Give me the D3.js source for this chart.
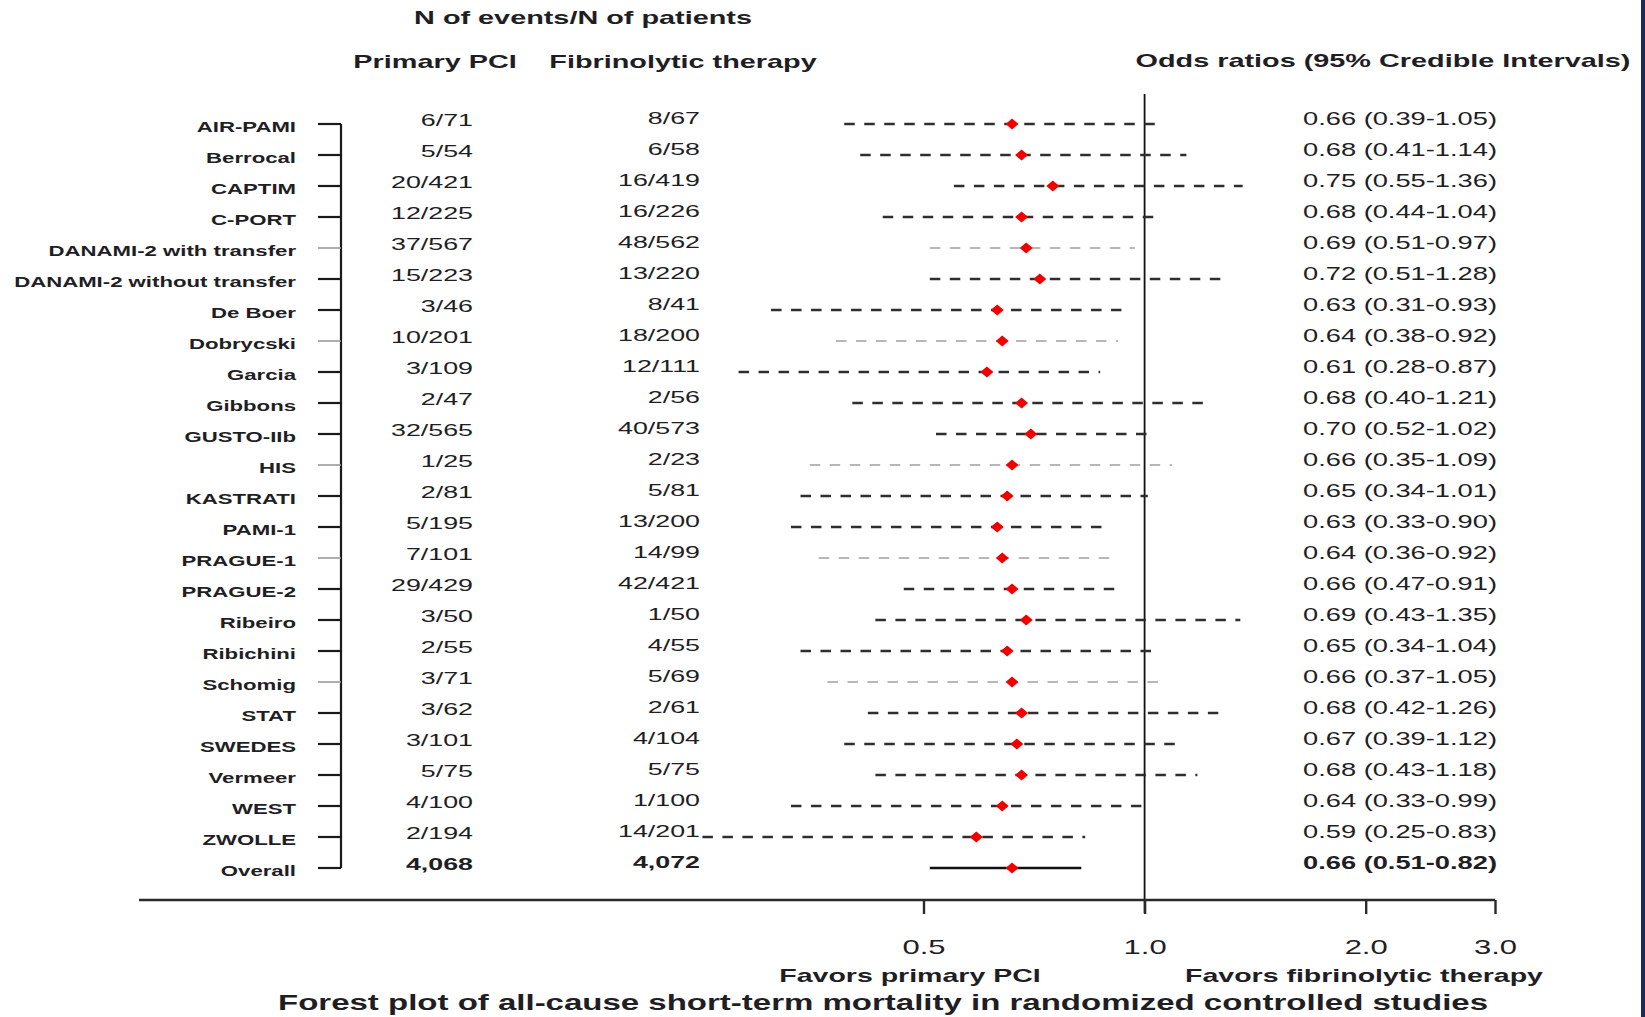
<!DOCTYPE html>
<html>
<head>
<meta charset="utf-8">
<script src="https://cdn.jsdelivr.net/npm/d3@7"></script>
<style>
  body { margin: 0; background: #fff; }
  svg { display: block; }
  text { font-family: "Liberation Sans", Arial, sans-serif; fill: #1e1e24; }
</style>
</head>
<body>
<svg id="chart" width="1645" height="1017"></svg>
<script>
// study rows, top to bottom
const studies = ["AIR-PAMI", "Berrocal", "CAPTIM", "C-PORT", "DANAMI-2 with transfer",
  "DANAMI-2 without transfer", "De Boer", "Dobrycski", "Garcia", "Gibbons", "GUSTO-IIb",
  "HIS", "KASTRATI", "PAMI-1", "PRAGUE-1", "PRAGUE-2", "Ribeiro", "Ribichini", "Schomig",
  "STAT", "SWEDES", "Vermeer", "WEST", "ZWOLLE", "Overall"];
const pciCounts = ["6/71", "5/54", "20/421", "12/225", "37/567", "15/223", "3/46", "10/201",
  "3/109", "2/47", "32/565", "1/25", "2/81", "5/195", "7/101", "29/429", "3/50", "2/55",
  "3/71", "3/62", "3/101", "5/75", "4/100", "2/194", "4,068"];
const fibCounts = ["8/67", "6/58", "16/419", "16/226", "48/562", "13/220", "8/41", "18/200",
  "12/111", "2/56", "40/573", "2/23", "5/81", "13/200", "14/99", "42/421", "1/50", "4/55",
  "5/69", "2/61", "4/104", "5/75", "1/100", "14/201", "4,072"];
const oddsRatio = [0.66, 0.68, 0.75, 0.68, 0.69, 0.72, 0.63, 0.64, 0.61, 0.68, 0.70, 0.66,
  0.65, 0.63, 0.64, 0.66, 0.69, 0.65, 0.66, 0.68, 0.67, 0.68, 0.64, 0.59, 0.66];
const ciLow = [0.39, 0.41, 0.55, 0.44, 0.51, 0.51, 0.31, 0.38, 0.28, 0.40, 0.52, 0.35,
  0.34, 0.33, 0.36, 0.47, 0.43, 0.34, 0.37, 0.42, 0.39, 0.43, 0.33, 0.25, 0.51];
const ciHigh = [1.05, 1.14, 1.36, 1.04, 0.97, 1.28, 0.93, 0.92, 0.87, 1.21, 1.02, 1.09,
  1.01, 0.90, 0.92, 0.91, 1.35, 1.04, 1.05, 1.26, 1.12, 1.18, 0.99, 0.83, 0.82];
const grayStudies = ["DANAMI-2 with transfer", "Dobrycski", "HIS", "PRAGUE-1", "Schomig"];
const tickValues = [0.5, 1.0, 2.0, 3.0];

const SX = 1.55; // the picture's lettering is stretched sideways

const rows = studies.map((s, i) => ({
  name: s, pci: pciCounts[i], fib: fibCounts[i],
  or: oddsRatio[i], lo: ciLow[i], hi: ciHigh[i],
  gray: grayStudies.includes(s), overall: s === "Overall"
}));

const svg = d3.select("#chart");

const x = d3.scaleLog().domain([0.5, 3]).range([923.5, 1495]);
const y = d3.scalePoint().domain(studies).range([124, 868]);
const axisY = 900;
const fmt = d3.format(".2f");

// helper: put a text at (px,py) and stretch it horizontally
function stretched(sel, px, py) {
  return sel.attr("transform", d => `translate(${px(d)},${py(d)}) scale(${SX},1)`);
}

// headers
const headers = [
  { t: "N of events/N of patients", x: 583, y: 24 },
  { t: "Primary PCI", x: 435, y: 68 },
  { t: "Fibrinolytic therapy", x: 683, y: 68 },
  { t: "Odds ratios (95% Credible Intervals)", x: 1383, y: 67 }
];
svg.append("g").selectAll("text").data(headers).enter().append("text")
  .attr("text-anchor", "middle")
  .style("font-size", "18.6px").style("font-weight", "bold")
  .call(stretched, d => d.x, d => d.y)
  .text(d => d.t);

// study labels
svg.append("g").selectAll("text").data(rows).enter().append("text")
  .attr("text-anchor", "end")
  .style("font-size", "14.3px").style("font-weight", "bold")
  .call(stretched, d => 296, d => y(d.name) + 8)
  .text(d => d.name);

// bracket on the left
svg.append("line")
  .attr("x1", 341).attr("x2", 341)
  .attr("y1", y(studies[0])).attr("y2", y(studies[studies.length - 1]))
  .attr("stroke", "#1a1a1a").attr("stroke-width", 2.2);
svg.append("g").selectAll("line").data(rows).enter().append("line")
  .attr("x1", 318).attr("x2", 341)
  .attr("y1", d => y(d.name)).attr("y2", d => y(d.name))
  .attr("stroke", d => d.gray ? "#9a9a9a" : "#1a1a1a")
  .attr("stroke-width", d => d.gray ? 1.6 : 2.2);

// counts
svg.append("g").selectAll("text").data(rows).enter().append("text")
  .attr("text-anchor", "end")
  .style("font-size", "17.3px").style("font-weight", d => d.overall ? "bold" : "normal")
  .call(stretched, d => 473, d => y(d.name) + 2)
  .text(d => d.pci);
svg.append("g").selectAll("text").data(rows).enter().append("text")
  .attr("text-anchor", "end")
  .style("font-size", "17.3px").style("font-weight", d => d.overall ? "bold" : "normal")
  .call(stretched, d => 700, d => y(d.name))
  .text(d => d.fib);

// odds ratio text
svg.append("g").selectAll("text").data(rows).enter().append("text")
  .attr("text-anchor", "start")
  .style("font-size", "17.6px").style("font-weight", d => d.overall ? "bold" : "normal")
  .call(stretched, d => 1303, d => y(d.name) + 0.5)
  .text(d => `${fmt(d.or)} (${fmt(d.lo)}-${fmt(d.hi)})`);

// reference line at OR = 1
svg.append("line")
  .attr("x1", x(1)).attr("x2", x(1))
  .attr("y1", 94).attr("y2", axisY + 13)
  .attr("stroke", "#111").attr("stroke-width", 1.8);

// credible intervals
svg.append("g").selectAll("line").data(rows).enter().append("line")
  .attr("x1", d => x(d.lo)).attr("x2", d => x(d.hi))
  .attr("y1", d => y(d.name)).attr("y2", d => y(d.name))
  .attr("stroke", d => d.gray ? "#a0a0a0" : (d.overall ? "#111" : "#2e2e2e"))
  .attr("stroke-width", d => d.gray ? 1.7 : 2.3)
  .attr("stroke-dasharray", d => d.overall ? null : "10.5,9.5");

// point estimates
svg.append("g").selectAll("path").data(rows).enter().append("path")
  .attr("d", "M-6.5,0L0,-5.5L6.5,0L0,5.5Z")
  .attr("transform", d => `translate(${x(d.or)},${y(d.name)})`)
  .attr("fill", "#f20000");

// x axis
svg.append("line")
  .attr("x1", 139).attr("x2", x(3))
  .attr("y1", axisY).attr("y2", axisY)
  .attr("stroke", "#2a2a2a").attr("stroke-width", 2.4);
const axis = svg.append("g")
  .attr("transform", `translate(0,${axisY})`)
  .call(d3.axisBottom(x).tickValues(tickValues).tickSize(14).tickFormat(d3.format(".1f")));
axis.select(".domain").remove();
axis.selectAll(".tick line").attr("stroke", "#2a2a2a").attr("stroke-width", 2.4);
axis.selectAll(".tick text")
  .attr("y", 54).attr("dy", 0)
  .attr("transform", `scale(${SX},1)`)
  .style("font-size", "20px").style("font-family", "Liberation Sans, Arial, sans-serif")
  .attr("fill", "#1e1e24");

// favors labels and caption
const footer = [
  { t: "Favors primary PCI", x: 910, y: 982, s: 18.4 },
  { t: "Favors fibrinolytic therapy", x: 1364, y: 982, s: 18.4 },
  { t: "Forest plot of all-cause short-term mortality in randomized controlled studies", x: 883, y: 1010, s: 21.3 }
];
svg.append("g").selectAll("text").data(footer).enter().append("text")
  .attr("text-anchor", "middle")
  .style("font-size", d => d.s + "px").style("font-weight", "bold")
  .call(stretched, d => d.x, d => d.y)
  .text(d => d.t);

// dark edge on the right of the picture
svg.append("rect")
  .attr("x", 1641).attr("y", 0).attr("width", 4).attr("height", 1017)
  .attr("fill", "#1c2a58");
</script>
</body>
</html>
